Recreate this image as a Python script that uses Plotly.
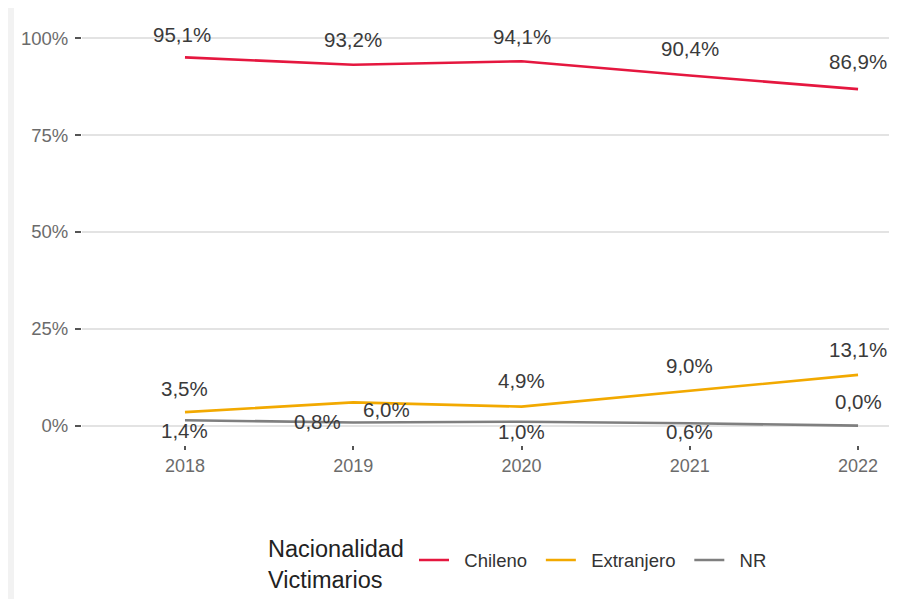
import plotly.graph_objects as go

years = [2018, 2019, 2020, 2021, 2022]
chileno = [95.1, 93.2, 94.1, 90.4, 86.9]
extranjero = [3.5, 6.0, 4.9, 9.0, 13.1]
nr = [1.4, 0.8, 1.0, 0.6, 0.0]
y_ticks = [0, 25, 50, 75, 100]
y_ticktext = ['0%', '25%', '50%', '75%', '100%']

series = [
    ('Chileno', chileno, '#E5173F'),
    ('Extranjero', extranjero, '#F2A900'),
    ('NR', nr, '#7F7F7F'),
]

# label offsets in px (repel-like placement)
label_shift = {
    'Chileno': [(-3, 23), (0, 25), (0, 25), (0, 27), (0, 28)],
    'Extranjero': [(0, 24), (33, -7), (0, 26), (0, 25), (0, 25)],
    'NR': [(0, -10), (-36, 1), (0, -10), (0, -8), (0, 24)],
}

fig = go.Figure()
annotations = []
for name, vals, col in series:
    fig.add_trace(go.Scatter(
        x=years, y=vals, mode='lines', name='\u00a0\u00a0' + name + '\u00a0\u2009',
        line={'color': col, 'width': 2.6},
        ))
    for i, (x, v) in enumerate(zip(years, vals)):
        dx, dy = label_shift[name][i]
        annotations.append(dict(
            x=x, y=v, text=('%.1f%%' % v).replace('.', ','),
            showarrow=False, xshift=dx, yshift=dy,
            font={'size': 20.5, 'color': '#3a3a3a'},
            ))

# legend title as a separate text block
annotations.append(dict(
    x=0.2235, y=-0.2805, xref='paper', yref='paper', xanchor='left', yanchor='middle',
    align='left', showarrow=False, text='Nacionalidad<br>Victimarios',
    font={'size': 23.5, 'color': '#222222'},
    ))

fig.update_xaxes(
    range=[2017.388, 2022.279], tickmode='array', tickvals=years,
    ticks='outside', ticklen=4, tickwidth=2, tickcolor='#555555',
    showgrid=False, zeroline=False, showline=False,
    tickfont={'size': 18, 'color': '#6b6b6b'},
    )
fig.update_yaxes(
    range=[-5, 105], tickmode='array', tickvals=y_ticks, ticktext=y_ticktext,
    ticks='outside', ticklen=6, tickwidth=2, tickcolor='#555555',
    showgrid=True, gridcolor='#e3e3e3', gridwidth=2,
    zeroline=False, showline=False, ticklabelstandoff=3,
    tickfont={'size': 18.5, 'color': '#6b6b6b'},
    )

fig.update_layout(
    width=897,
    height=599,
    margin={'l': 74, 'r': 0, 't': 11, 'b': 162},
    paper_bgcolor='white',
    plot_bgcolor='white',
    font={'family': 'Liberation Sans, Arial, sans-serif', 'color': '#333333'},
    annotations=annotations,
    shapes=[dict(
        type='rect', xref='paper', yref='paper',
        x0=-0.1, x1=-0.0826, y0=-0.4, y1=1.05,
        fillcolor='#f2f2f2', line={'width': 0}, layer='below',
        )],
    showlegend=True,
    legend=dict(
        orientation='h', x=0.4034, xanchor='left', y=-0.271, yanchor='middle',
        font={'size': 18.5, 'color': '#333333'},
        bgcolor='rgba(0,0,0,0)', itemwidth=30,
        ),
    )

fig.write_html('out.html')
